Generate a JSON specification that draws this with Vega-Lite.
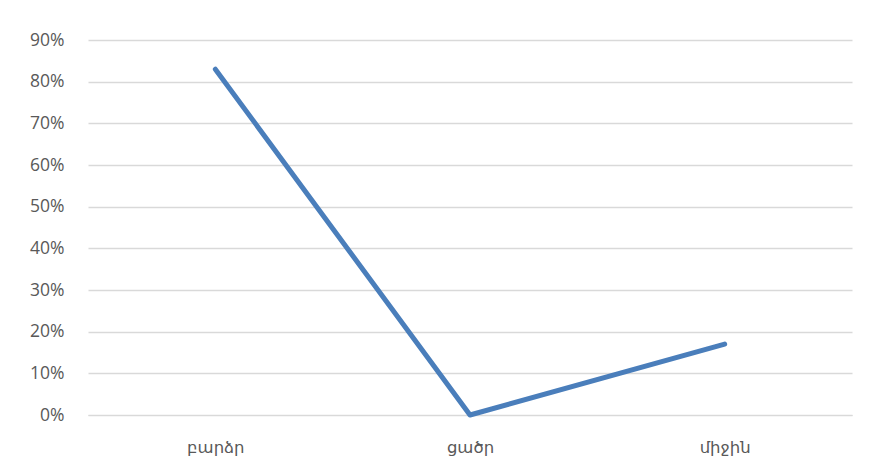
{
  "$schema": "https://vega.github.io/schema/vega-lite/v6.json",
  "autosize": "none",
  "width": 764,
  "height": 375,
  "padding": {"left": 88, "top": 40, "right": 18, "bottom": 57},
  "background": "white",
  "data": {"values": [
    {"level": "բարձր", "share": 0.83},
    {"level": "ցածր", "share": 0.0},
    {"level": "միջին", "share": 0.17}
  ]},
  "mark": {"type": "line", "color": "#4a7ebb", "strokeWidth": 5, "strokeCap": "round", "strokeJoin": "round"},
  "encoding": {
    "x": {"field": "level", "type": "nominal", "sort": null,
      "scale": {"paddingInner": 0, "paddingOuter": 0.5},
      "axis": {"title": null, "labelAngle": 0, "ticks": false, "domain": true, "domainColor": "#d9d9d9", "grid": false,
        "labelFont": "DejaVu Sans", "labelFontSize": 16.5, "labelColor": "#595959", "labelPadding": 24}},
    "y": {"field": "share", "type": "quantitative",
      "scale": {"domain": [0, 0.9], "nice": false},
      "axis": {"title": null, "format": ".0%", "values": [0,0.1,0.2,0.3,0.4,0.5,0.6,0.7,0.8,0.9], "ticks": false, "domain": false,
        "gridColor": "#d9d9d9", "gridWidth": 1.3, "labelFont": "Open Sans", "labelFontSize": 17.5, "labelColor": "#595959", "labelPadding": 24}}
  },
  "config": {"view": {"stroke": null}}
}
